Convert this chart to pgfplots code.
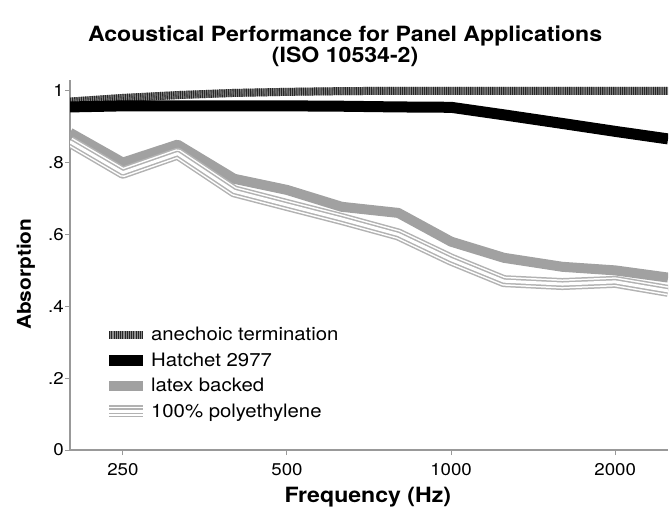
\documentclass[border=0pt]{standalone}
\usepackage{fontspec}
\setmainfont{TeX Gyre Heros}[FakeStretch=1.1]
\usepackage{pgfplots}
\pgfplotsset{compat=1.18}

% third-octave bands, absorption
\pgfplotstableread{
f a
200 0.97
250 0.98
315 0.988
400 0.994
500 0.997
630 0.999
800 1.0
1000 1.0
1250 1.0
1600 1.0
2000 1.0
2500 1.0
}\anechoic
\pgfplotstableread{
f a
200 0.955
250 0.958
315 0.958
400 0.958
500 0.958
630 0.957
800 0.955
1000 0.954
1250 0.933
1600 0.909
2000 0.887
2500 0.866
}\hatchet
\pgfplotstableread{
f a
200 0.883
250 0.800
315 0.850
400 0.755
500 0.724
630 0.677
800 0.660
1000 0.580
1250 0.535
1600 0.510
2000 0.500
2500 0.480
}\latex
\pgfplotstableread{
f a
200 0.858
250 0.772
315 0.825
400 0.720
500 0.682
630 0.643
800 0.600
1000 0.530
1250 0.470
1600 0.462
2000 0.468
2500 0.443
}\poly

\begin{document}
\begin{tikzpicture}
\useasboundingbox (-70bp,-62bp) rectangle (600bp,450bp);
\begin{axis}[
  scale only axis,
  width=598bp, height=370bp,
  xmode=log,
  xmin=200, xmax=2500,
  ymin=0, ymax=1.03,
  axis x line=bottom, axis y line=left,
  axis line style={draw=black!40, line width=1.5bp, -},
  xtick={250,500,1000,2000},
  xticklabels={250,500,1000,2000},
  ytick={0,0.2,0.4,0.6,0.8,1},
  yticklabels={0,.2,.4,.6,.8,1},
  tick align=outside,
  major tick length=5bp,
  tick style={draw=black!40, line width=1bp},
  ticklabel style={font=\fontsize{17bp}{19bp}\selectfont},
  yticklabel style={inner sep=1bp},
  xticklabel style={inner sep=2bp, yshift=-6bp},
  title={Acoustical Performance for Panel Applications\\(ISO 10534-2)},
  title style={font=\bfseries\fontsize{21bp}{21bp}\selectfont, align=center,
    at={(axis description cs:0.46,1.075)}, anchor=center},
  xlabel={Frequency (Hz)},
  ylabel={Absorption},
  every axis x label/.style={at={(axis description cs:0.498,-0.127)}, anchor=center,
    font=\bfseries\fontsize{21bp}{22bp}\selectfont},
  every axis y label/.style={at={(axis description cs:-0.074,0.475)}, rotate=90, anchor=center,
    font=\bfseries\fontsize{19bp}{22bp}\selectfont},
  legend style={draw=none, fill=none, at={(axis description cs:0.055,0.338)}, anchor=north west,
    font=\fontsize{18.5bp}{20bp}\selectfont, row sep=6.5bp, inner sep=0pt},
  legend cell align=left,
  legend image code/.code={\draw[#1] (0bp,0bp) -- (34bp,0bp);},
  line join=round,
]
\addplot[black!45, line width=8bp, no markers,
  postaction={draw=black!85, line width=8bp, dash pattern=on 1.1bp off 1.1bp}]
  table[x=f, y=a] {\anechoic};
\addlegendentry{anechoic termination}
\addplot[black, line width=11bp, no markers] table[x=f, y=a] {\hatchet};
\addlegendentry{Hatchet 2977}
\addplot[black!37, line width=10bp, no markers] table[x=f, y=a] {\latex};
\addlegendentry{latex backed}
\addplot[black!30, line width=12bp, no markers,
  postaction={draw=white, line width=9bp},
  postaction={draw=black!30, line width=6bp},
  postaction={draw=white, line width=3bp}]
  table[x=f, y=a] {\poly};
\addlegendentry{100\% polyethylene}
\end{axis}
\end{tikzpicture}
\end{document}
